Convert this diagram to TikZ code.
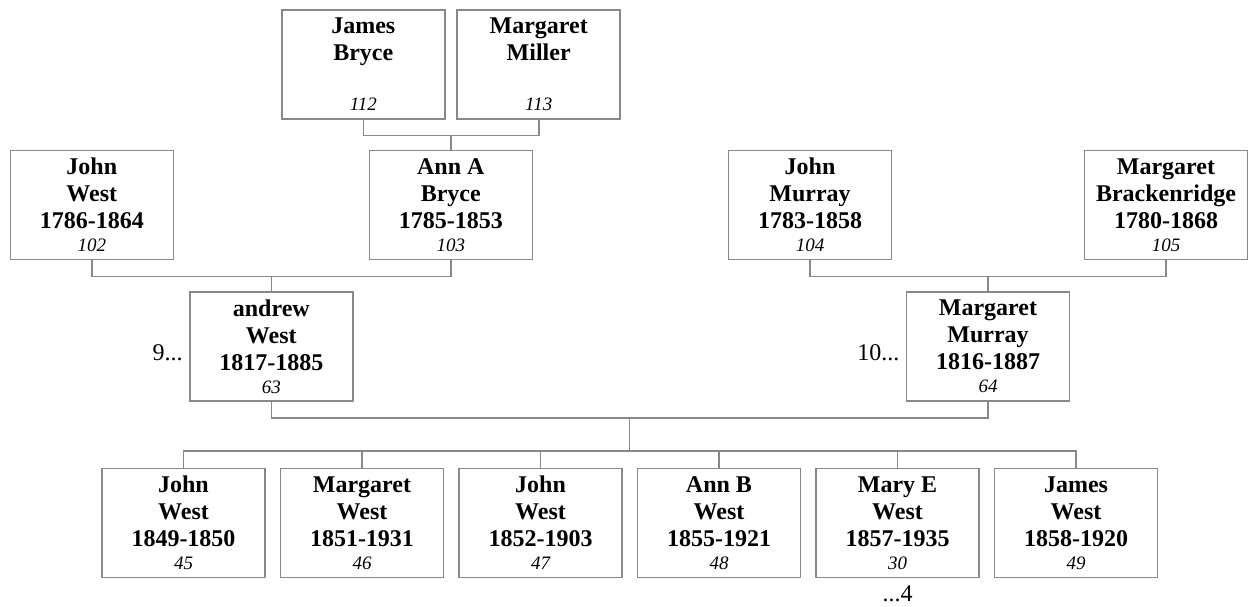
\documentclass[tikz,border=0pt]{standalone}
\usepackage{fontspec}
\setmainfont{Liberation Serif}
\usetikzlibrary{positioning, calc}
\definecolor{linegray}{RGB}{136,136,136}
\newcommand{\pnum}[1]{{\fontsize{9.5}{11}\selectfont\mdseries\itshape #1}}
\tikzset{
    person/.style={
        rectangle, draw=linegray, line width=0.8pt, fill=white,
        minimum width=81.5pt, minimum height=54.5pt, inner sep=2pt,
        align=center, font=\fontsize{12}{13.5}\selectfont\bfseries
    },
    link/.style={draw=linegray, line width=0.8pt},
    more/.style={inner sep=0pt, font=\fontsize{12}{13.5}\selectfont}
}

\begin{document}
\begin{tikzpicture}[x=0.5pt, y=-0.5pt]

\useasboundingbox (0,0) rectangle (1248,606);

% Great-grandparents
\node[person] (jamesb) at (363.3,64.5) {James\\Bryce\\\mbox{}\\[-2pt]\pnum{112}};
\node[person, right=5.4pt of jamesb] (margmi) {Margaret\\Miller\\\mbox{}\\[-2pt]\pnum{113}};

% Grandparents
\node[person] (johnw) at (91.8,204.8) {John\\West\\1786-1864\\[-2pt]\pnum{102}};
\node[person] (anna) at (450.8,204.8) {Ann A\\Bryce\\1785-1853\\[-2pt]\pnum{103}};
\node[person] (johnm) at (810,204.8) {John\\Murray\\1783-1858\\[-2pt]\pnum{104}};
\node[person] (margb) at (1166,204.8) {Margaret\\Brackenridge\\1780-1868\\[-2pt]\pnum{105}};

% Parents
\node[person] (andrew) at (271.3,346.7) {andrew\\West\\1817-1885\\[-2pt]\pnum{63}};
\node[person] (margmu) at (988,346.7) {Margaret\\Murray\\1816-1887\\[-2pt]\pnum{64}};

% Children
\node[person] (kid1) at (183.5,522.8) {John\\West\\1849-1850\\[-2pt]\pnum{45}};
\node[person, right=6.95pt of kid1] (kid2) {Margaret\\West\\1851-1931\\[-2pt]\pnum{46}};
\node[person, right=6.95pt of kid2] (kid3) {John\\West\\1852-1903\\[-2pt]\pnum{47}};
\node[person, right=6.95pt of kid3] (kid4) {Ann B\\West\\1855-1921\\[-2pt]\pnum{48}};
\node[person, right=6.95pt of kid4] (kid5) {Mary E\\West\\1857-1935\\[-2pt]\pnum{30}};
\node[person, right=6.95pt of kid5] (kid6) {James\\West\\1858-1920\\[-2pt]\pnum{49}};

% Continuation marks
\node[more, left=3pt of andrew, yshift=-3pt] (andrewmore) {9...};
\node[more, left=3pt of margmu, yshift=-3pt] (margmumore) {10...};
\node[more, below=3.5pt of kid5] (kid5more) {...4};

% Connections
\coordinate (brycebar) at ($(jamesb.south)!.5!(margmi.south)+(0,15.6)$);
\draw[link] (jamesb.south) |- (brycebar) -| (margmi.south);
\draw[link] (brycebar) -- (brycebar |- anna.north);

\coordinate (westbar) at ($(johnw.south)!.5!(anna.south)+(0,16.4)$);
\draw[link] (johnw.south) |- (westbar) -| (anna.south);
\draw[link] (westbar) -- (westbar |- andrew.north);

\coordinate (murraybar) at ($(johnm.south)!.5!(margb.south)+(0,16.4)$);
\draw[link] (johnm.south) |- (murraybar) -| (margb.south);
\draw[link] (murraybar) -- (murraybar |- margmu.north);

\coordinate (famtop) at ($(andrew.south)!.5!(margmu.south)+(0,16)$);
\coordinate (kidbar) at ($(kid1.north)+(0,-16.3)$);
\draw[link] (andrew.south) |- (famtop) -| (margmu.south);
\draw[link] (famtop) -- (famtop |- kidbar);
\draw[link] (kid1.north) -- (kidbar) -- (kidbar -| kid6.north) -- (kid6.north);
\foreach \k in {kid2,kid3,kid4,kid5}
    \draw[link] (\k.north) -- (\k.north |- kidbar);

\end{tikzpicture}
\end{document}
